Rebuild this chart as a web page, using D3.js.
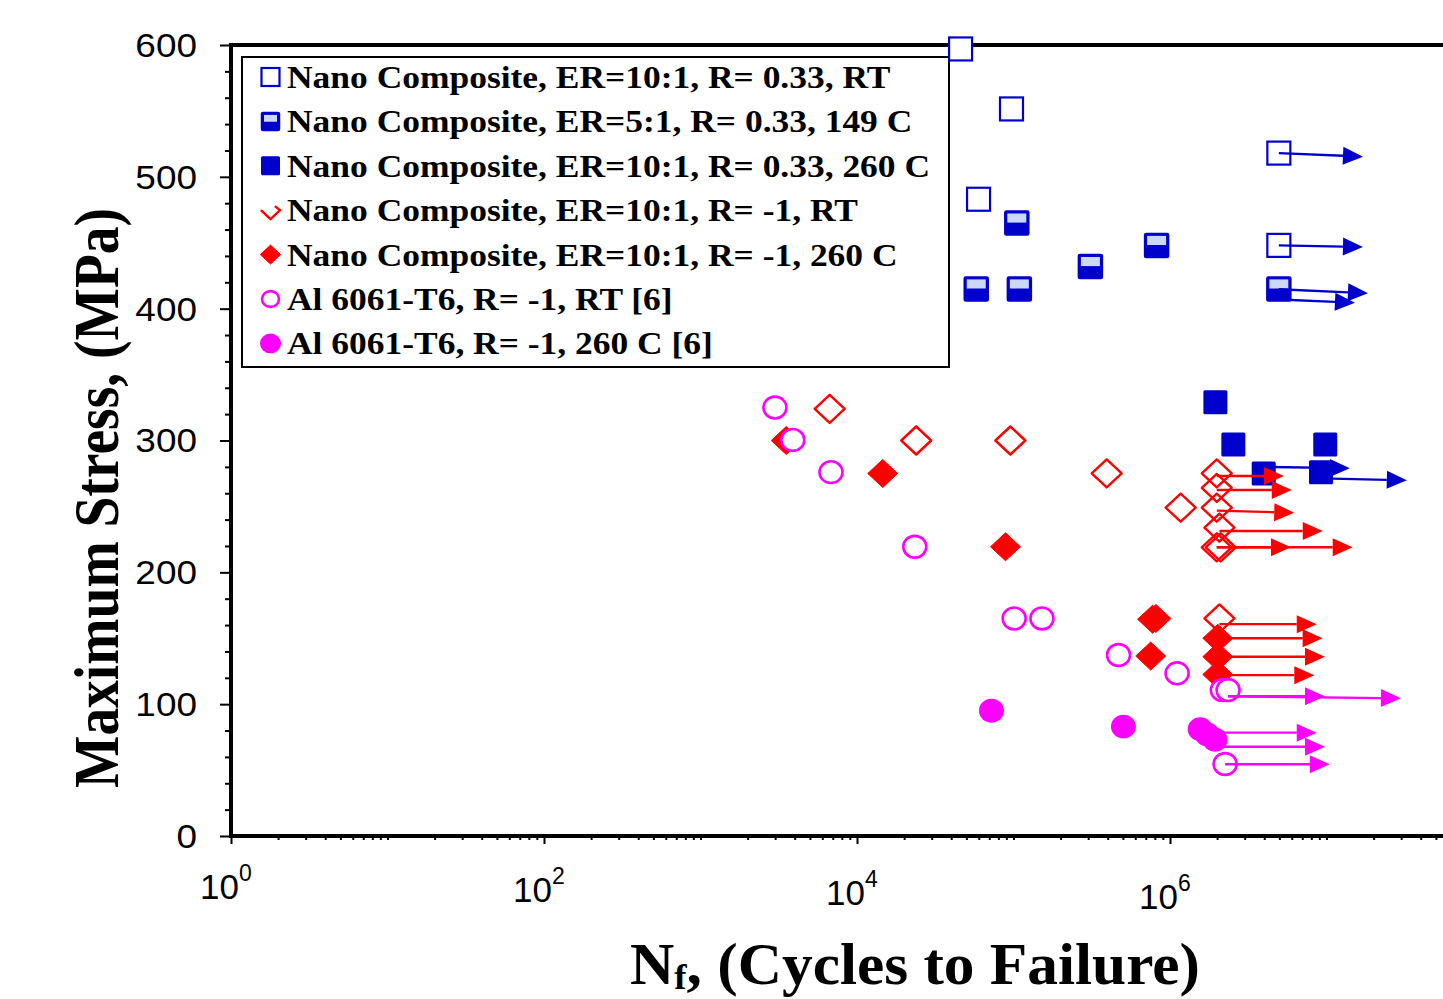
<!DOCTYPE html>
<html>
<head>
<meta charset="utf-8">
<script src="https://cdn.jsdelivr.net/npm/d3@7"></script>
<style>
  html, body { margin: 0; padding: 0; background: #fff; overflow: hidden; }
  svg { display: block; }
</style>
</head>
<body>
<svg id="chart" width="1443" height="999"></svg>
<script>
// ---- Data: [cycles to failure, maximum stress (MPa)] ----
const nanoER10RT033   = [[45900, 597], [97100, 551.5], [59800, 483], [4.96e6, 518], [4.96e6, 448]];
const nanoER5T149     = [[105000, 465], [57800, 415], [109000, 415], [310000, 432], [821000, 448], [4.96e6, 415]];
const nanoER10T260033 = [[1.95e6, 329], [2.54e6, 297], [9.82e6, 297], [3.97e6, 275], [9.22e6, 276]];
const nanoER10RTm1    = [[6690, 324], [23900, 300], [95500, 300], [394000, 275], [1.17e6, 249],
                         [1.99e6, 275], [1.99e6, 264], [1.99e6, 249], [2.07e6, 234], [1.99e6, 219],
                         [2.11e6, 219], [2.07e6, 165]];
const nanoER10T260m1  = [[3530, 300], [14600, 275], [88900, 219.4], [774000, 164.4], [813000, 165],
                         [753000, 136.5], [2.02e6, 150], [2.02e6, 136], [2.02e6, 122.5]];
const alRTm1          = [[2990, 325], [3890, 300.4], [6820, 276], [23400, 219.4], [101000, 165],
                         [152000, 165], [469000, 137.3], [1.11e6, 123.4], [2.16e6, 110.7],
                         [2.35e6, 110.7], [2.25e6, 54.6]];
const alT260m1        = [[72300, 95], [504000, 83], [1.56e6, 81], [1.73e6, 77], [1.94e6, 73]];

// Run-out arrows: [start cycles, start stress, tip cycles, tip stress]
const runoutBlue = [[4.96e6, 518, 1.71e7, 515.3], [4.96e6, 448, 1.71e7, 446.8],
                    [4.96e6, 414.7, 1.84e7, 411.7], [5.0e6, 407, 1.52e7, 404.5],
                    [3.97e6, 280, 1.41e7, 279], [9.22e6, 271.3, 3.26e7, 269.8]];
const runoutRed  = [[1.99e6, 273.1, 5.35e6, 273.1], [1.99e6, 262.5, 6.0e6, 262.5],
                    [1.99e6, 246.8, 6.22e6, 245.2], [2.07e6, 231.4, 9.46e6, 231.4],
                    [1.99e6, 219, 5.93e6, 219], [1.99e6, 219, 1.47e7, 219],
                    [2.07e6, 160.7, 8.66e6, 160.7], [2.02e6, 150, 9.45e6, 150],
                    [2.02e6, 136, 9.78e6, 136], [2.02e6, 122, 8.36e6, 122]];
const runoutPink = [[2.35e6, 106, 9.78e6, 106], [2.35e6, 106, 2.99e7, 104.4],
                    [1.94e6, 78.4, 8.66e6, 78.4], [1.94e6, 67.7, 9.78e6, 67.7],
                    [2.25e6, 54.4, 1.05e7, 54.4]];

const legendLabels = [
  "Nano Composite, ER=10:1, R= 0.33, RT",
  "Nano Composite, ER=5:1, R= 0.33, 149 C",
  "Nano Composite, ER=10:1, R= 0.33, 260 C",
  "Nano Composite, ER=10:1, R= -1, RT",
  "Nano Composite, ER=10:1, R= -1, 260 C",
  "Al 6061-T6, R= -1, RT [6]",
  "Al 6061-T6, R= -1, 260 C [6]"
];
const yTicks = [0, 100, 200, 300, 400, 500, 600];
const xMajorExponents = [0, 2, 4, 6, 8];
const xLabelExponents = [0, 2, 4, 6];

// ---- Styling ----
const BLUE = "#0000CC", LIGHT = "#CCD8FA", RED = "#FF0000", PINK = "#FF00FF";
const SERIF = "'Liberation Serif','Times New Roman',serif";
const SANS = "'Liberation Sans',Arial,sans-serif";

const series = [
  { data: nanoER10RT033,   kind: "sqOpen" },
  { data: nanoER5T149,     kind: "sqHalf" },
  { data: nanoER10T260033, kind: "sqFill" },
  { data: nanoER10RTm1,    kind: "diaOpen" },
  { data: nanoER10T260m1,  kind: "diaFill" },
  { data: alRTm1,          kind: "cirOpen" },
  { data: alT260m1,        kind: "cirFill" }
];

const svg = d3.select("#chart");
const x = d3.scaleLog().domain([1, 1e8]).range([231, 1483]);
const y = d3.scaleLinear().domain([0, 600]).range([836, 45]);

// Marker painter; s = nominal marker size in px
function marker(g, kind, s, legend) {
  const h = s / 2;
  switch (kind) {
    case "sqOpen":
      g.append("rect").attr("x", -h).attr("y", -h).attr("width", s).attr("height", s)
        .attr("fill", "#fff").attr("stroke", BLUE).attr("stroke-width", 2.2);
      break;
    case "sqHalf":
      g.append("rect").attr("x", -h).attr("y", -h).attr("width", s).attr("height", s)
        .attr("rx", 1.5).attr("fill", BLUE).attr("stroke", BLUE).attr("stroke-width", 1.5);
      g.append("rect").attr("x", -h + 2.5).attr("y", -h + 2.5).attr("width", s - 5).attr("height", s * 0.38)
        .attr("fill", LIGHT);
      break;
    case "sqFill":
      g.append("rect").attr("x", -h).attr("y", -h).attr("width", s).attr("height", s)
        .attr("rx", 1.5).attr("fill", BLUE);
      break;
    case "diaOpen": {
      const w = h * 1.07;
      const d = legend
        ? `M${-w},0L0,${h}L${w},0L${w * 0.45},${-h * 0.45}`
        : `M${-w},0L0,${-h}L${w},0L0,${h}Z`;
      g.append("path").attr("d", d).attr("fill", "none").attr("stroke", RED)
        .attr("stroke-width", 2.4).attr("stroke-linejoin", "round");
      break;
    }
    case "diaFill": {
      const w = h * 1.07;
      g.append("path").attr("d", `M${-w},0L0,${-h}L${w},0L0,${h}Z`).attr("fill", RED)
        .attr("stroke", RED).attr("stroke-width", 1);
      break;
    }
    case "cirOpen":
      g.append("ellipse").attr("rx", h - 1).attr("ry", h - 1.6).attr("fill", "#fff")
        .attr("stroke", PINK).attr("stroke-width", 2.6);
      break;
    case "cirFill":
      g.append("ellipse").attr("rx", h).attr("ry", h - 0.6).attr("fill", PINK);
      break;
  }
}

// ---- Axes ----
const isMajor = v => {
  const e = Math.log10(v);
  return Math.abs(e - Math.round(e)) < 1e-6 && xMajorExponents.includes(Math.round(e));
};
const minorX = d3.axisBottom(x).tickValues(x.ticks().filter(v => !isMajor(v)))
  .tickSize(4).tickSizeOuter(0).tickFormat("");
const majorX = d3.axisBottom(x).tickValues(xMajorExponents.map(e => Math.pow(10, e)))
  .tickSize(8).tickSizeOuter(0).tickFormat("");
const gx1 = svg.append("g").attr("transform", "translate(0,836)").call(minorX);
const gx2 = svg.append("g").attr("transform", "translate(0,836)").call(majorX);

const minorY = d3.axisLeft(y).tickValues(d3.range(0, 601, 20).filter(v => v % 100 !== 0))
  .tickSize(6).tickSizeOuter(0).tickFormat("");
const majorY = d3.axisLeft(y).tickValues(yTicks).tickSize(11).tickSizeOuter(0).tickFormat("");
const gy1 = svg.append("g").attr("transform", "translate(231,0)").call(minorY);
const gy2 = svg.append("g").attr("transform", "translate(231,0)").call(majorY);

[gx1, gx2, gy1, gy2].forEach(g => {
  g.select(".domain").remove();
  g.selectAll(".tick line").attr("stroke", "#000").attr("stroke-width", 2);
});

// y tick labels
svg.append("g").selectAll("text").data(yTicks).join("text")
  .attr("transform", d => `translate(197,${y(d)}) scale(1.12,1)`)
  .attr("text-anchor", "end").attr("dy", "0.36em")
  .attr("font-family", SANS).attr("font-size", 33).attr("fill", "#000")
  .text(d => d);

// x tick labels as powers of ten
const xl = svg.append("g").selectAll("text").data(xLabelExponents).join("text")
  .attr("x", e => x(Math.pow(10, e)) - 31)
  .attr("y", e => 899 + e * 1.6)
  .attr("font-family", SANS).attr("font-size", 35).attr("fill", "#000");
xl.append("tspan").text("10");
xl.append("tspan").attr("font-size", 23).attr("dy", -18).text(e => e);

// frame lines
const [x0, x1] = x.range();
svg.append("line").attr("x1", x0 - 2).attr("x2", x1).attr("y1", 45).attr("y2", 45)
  .attr("stroke", "#000").attr("stroke-width", 4);
svg.append("line").attr("x1", x0).attr("x2", x0).attr("y1", 43).attr("y2", 838)
  .attr("stroke", "#000").attr("stroke-width", 4);
svg.append("line").attr("x1", x0 - 2).attr("x2", x1).attr("y1", 836).attr("y2", 836)
  .attr("stroke", "#000").attr("stroke-width", 4);

// ---- Legend box ----
const legend = svg.append("g");
legend.append("rect").attr("x", 242).attr("y", 57).attr("width", 707).attr("height", 310)
  .attr("fill", "#fff").attr("stroke", "#000").attr("stroke-width", 2);
const legendSizes = [18, 18, 19, 18, 19, 19, 21];
legendLabels.forEach((lab, i) => {
  const cy = 77 + i * 44.4;
  const mg = legend.append("g").attr("transform", `translate(270.5,${cy})`);
  marker(mg, series[i].kind, legendSizes[i], true);
  legend.append("text")
    .attr("transform", `translate(287,${cy + 11}) scale(1.108,1)`)
    .attr("font-family", SERIF).attr("font-weight", "bold").attr("font-size", 32)
    .attr("fill", "#000").text(lab);
});

// ---- Data markers ----
const markSize = { sqOpen: 23, sqHalf: 24, sqFill: 24, diaOpen: 28, diaFill: 28, cirOpen: 25, cirFill: 25 };
series.forEach(s => {
  const g = svg.append("g");
  s.data.forEach(([n, st]) => {
    const mg = g.append("g").attr("transform", `translate(${x(n)},${y(st)})`);
    marker(mg, s.kind, markSize[s.kind], false);
  });
});

// ---- Run-out arrows ----
function arrows(list, color) {
  const g = svg.append("g");
  list.forEach(([n0, s0, n1, s1]) => {
    const ax = x(n0), ay = y(s0), bx = x(n1), by = y(s1);
    const ang = Math.atan2(by - ay, bx - ax);
    const L = 20, W = 9;
    const cx = bx - L * Math.cos(ang), cy = by - L * Math.sin(ang);
    g.append("line").attr("x1", ax).attr("y1", ay).attr("x2", cx).attr("y2", cy)
      .attr("stroke", color).attr("stroke-width", 2.4);
    const px = -Math.sin(ang) * W, py = Math.cos(ang) * W;
    g.append("path")
      .attr("d", `M${bx},${by}L${cx + px},${cy + py}L${cx - px},${cy - py}Z`)
      .attr("fill", color);
  });
}
arrows(runoutBlue, BLUE);
arrows(runoutRed, RED);
arrows(runoutPink, PINK);

// ---- Axis titles ----
svg.append("text")
  .attr("transform", "translate(118,498) rotate(-90)")
  .attr("text-anchor", "middle")
  .attr("font-family", SERIF).attr("font-weight", "bold").attr("font-size", 64)
  .attr("textLength", 580).attr("lengthAdjust", "spacingAndGlyphs")
  .attr("fill", "#000").text("Maximum Stress, (MPa)");

const xt = svg.append("text")
  .attr("x", 630).attr("y", 984)
  .attr("font-family", SERIF).attr("font-weight", "bold").attr("font-size", 60)
  .attr("textLength", 570).attr("lengthAdjust", "spacingAndGlyphs")
  .attr("fill", "#000");
xt.append("tspan").text("N");
xt.append("tspan").attr("font-size", 36).attr("dy", 5).text("f");
xt.append("tspan").attr("dy", -5).text(", (Cycles to Failure)");
</script>
</body>
</html>
